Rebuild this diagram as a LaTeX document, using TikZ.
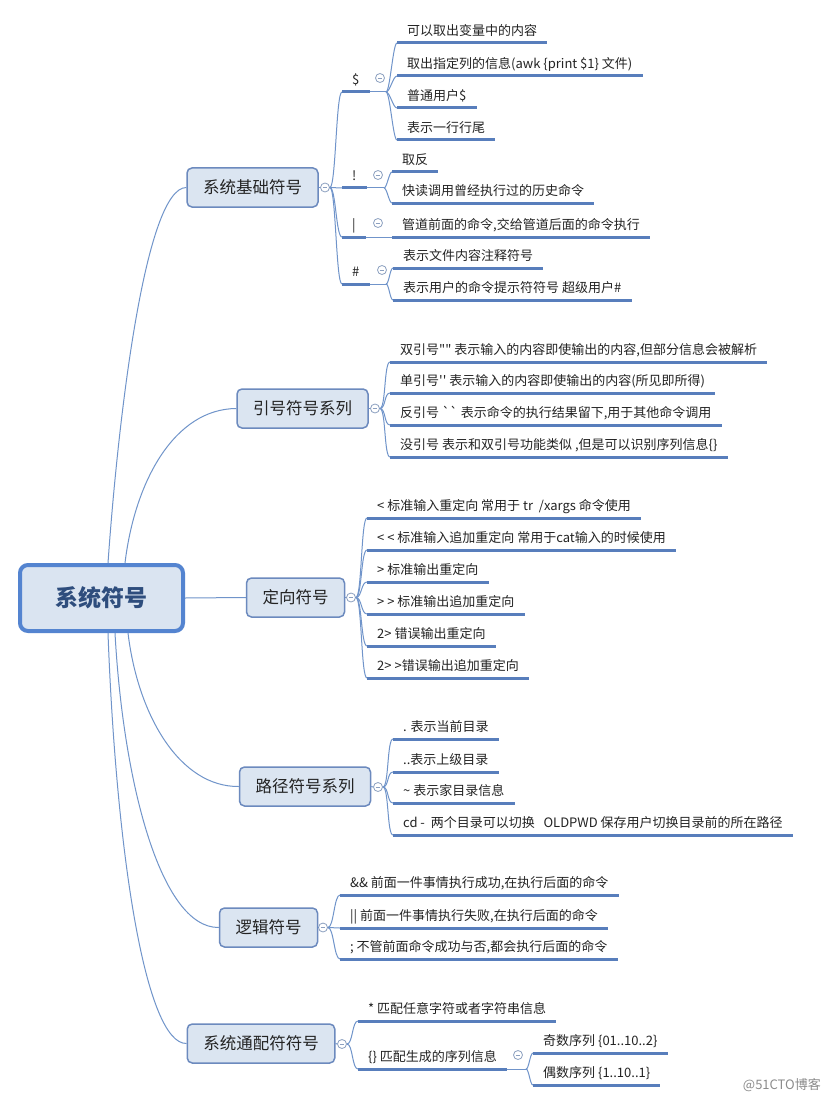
\documentclass[tikz,border=0pt]{standalone}
\usepackage{fontspec}
\newfontfamily\cjk{Noto Sans CJK SC}[Ligatures=TeXOff]
\definecolor{brc}{RGB}{112,148,202}
\definecolor{ulc}{RGB}{88,126,188}
\definecolor{topc}{RGB}{108,138,190}
\definecolor{topf}{RGB}{219,229,241}
\definecolor{rootc}{RGB}{84,132,208}
\definecolor{rootf}{RGB}{218,228,241}
\definecolor{roott}{RGB}{46,77,125}
\definecolor{txt}{RGB}{35,35,35}
\definecolor{foldc}{RGB}{140,160,192}
\definecolor{wmc}{RGB}{140,140,140}
\begin{document}
\begin{tikzpicture}[x=1pt,y=-1pt,
  br/.style={draw=brc, line width=1pt, to path={.. controls ([xshift=#1]\tikztostart) and ([xshift=-#1]\tikztotarget) .. (\tikztotarget)}},
  br/.default=6pt,
  leaf/.style={anchor=south west, inner xsep=10pt, inner ysep=4pt, text height=10pt, text depth=3pt, font=\cjk\fontsize{13}{15}\selectfont, text=txt},
  ulline/.style={draw=ulc, line width=3pt},
  topic/.style={draw=topc, line width=1.5pt, fill=topf, rounded corners=5pt, minimum height=39pt, inner xsep=16pt, font=\cjk\fontsize{16.5}{19}\selectfont, text=txt},
  rootbox/.style={draw=rootc, line width=4pt, fill=rootf, rounded corners=8pt, minimum width=163pt, minimum height=66pt, font=\cjk\bfseries\fontsize{23}{26}\selectfont, text=roott},
  fold/.style={circle, draw=foldc, line width=0.8pt, fill=white, minimum size=9pt, inner sep=0pt,
    path picture={\draw[foldc, line width=0.8pt] ([xshift=-2.3pt]path picture bounding box.center) -- ([xshift=2.3pt]path picture bounding box.center);}}
]
\useasboundingbox (0,0) rectangle (829,1102);
\fill[white] (0,0) rectangle (829,1102);

% root
\node[rootbox] (root) at (101.5,598) {系统符号};

% topics
\node[topic] (t1) at (252.5,187.5) {系统基础符号};
\node[topic] (t2) at (302.5,408.5) {引号符号系列};
\node[topic] (t3) at (295.5,597.5) {定向符号};
\node[topic] (t4) at (305,786.5) {路径符号系列};
\node[topic] (t5) at (268.5,927.5) {逻辑符号};
\node[topic] (t6) at (261,1043.5) {系统通配符符号};

% root connectors
\draw[br] ([xshift=6.5pt]root.north) .. controls (118,420) and (145,188) .. (t1.west);
\draw[br] ([xshift=23.5pt]root.north) .. controls (135,480) and (175,409) .. (t2.west);
\draw[br] (root.east) -- (t3.west);
\draw[br] ([xshift=26.5pt]root.south) .. controls (138,716) and (180,787) .. (t4.west);
\draw[br] ([xshift=13.5pt]root.south) .. controls (123,780) and (160,928) .. (t5.west);
\draw[br] ([xshift=6.5pt]root.south) .. controls (116,850) and (145,1044) .. (t6.west);

% folds of topics
\node[fold] (c1) at (325,187.5) {};
\node[fold] (c2) at (375,408.5) {};
\node[fold] (c3) at (351,597.5) {};
\node[fold] (c4) at (378,787) {};
\node[fold] (c5) at (323,927.5) {};
\node[fold] (c6) at (342,1044) {};
\foreach \t/\c in {t1/c1,t2/c2,t3/c3,t4/c4,t5/c5,t6/c6}
  \draw[br] (\t.east) -- (\c.west);

% ---- topic 1 ----
\node[leaf] (s1) at (342,92) {\$};
\node[leaf] (s2) at (342,188) {!};
\node[leaf] (s3) at (342,237) {|};
\node[leaf] (s4) at (342,284) {\#};
\node[fold] (f1) at (380,78) {};
\node[fold] (f2) at (378,175) {};
\node[fold] (f3) at (378,223) {};
\node[fold] (f4) at (382,270) {};
\foreach \s in {s1,s2,s3,s4} \draw[br] (c1.east) to (\s.south west);

\node[leaf] (l1a) at (397,43) {可以取出变量中的内容};
\node[leaf] (l1b) at (397,76) {取出指定列的信息(awk \{print \$1\} 文件)};
\node[leaf] (l1c) at (397,108) {普通用户\$};
\node[leaf] (l1d) at (397,140) {表示一行行尾};
\node[leaf] (l2a) at (392,172) {取反};
\node[leaf] (l2b) at (392,203) {快读调用曾经执行过的历史命令};
\node[leaf] (l3a) at (392,237) {管道前面的命令,交给管道后面的命令执行};
\node[leaf] (l4a) at (393,268) {表示文件内容注释符号};
\node[leaf] (l4b) at (393,300) {表示用户的命令提示符符号 超级用户\#};

\coordinate (o1) at (386,92);
\coordinate (o2) at (384,188);
\coordinate (o4) at (386,284);
\draw[br] (s1.south east) -- (o1);
\draw[br] (s2.south east) -- (o2);
\draw[br] (s4.south east) -- (o4);
\foreach \l in {l1a,l1b,l1c,l1d} \draw[br=4pt] (o1) to (\l.south west);
\foreach \l in {l2a,l2b} \draw[br=3pt] (o2) to (\l.south west);
\draw[br] (s3.south east) -- (l3a.south west);
\foreach \l in {l4a,l4b} \draw[br=3pt] (o4) to (\l.south west);

% ---- topic 2 ----
\node[leaf] (q1) at (390,362) {双引号"" 表示输入的内容即使输出的内容,但部分信息会被解析};
\node[leaf] (q2) at (390,393) {单引号'' 表示输入的内容即使输出的内容(所见即所得)};
\node[leaf] (q3) at (390,425) {反引号 `` 表示命令的执行结果留下,用于其他命令调用};
\node[leaf] (q4) at (390,457) {没引号 表示和双引号功能类似 ,但是可以识别序列信息\{\}};
\foreach \l in {q1,q2,q3,q4} \draw[br] (c2.east) to (\l.south west);

% ---- topic 3 ----
\node[leaf] (r1) at (367,518) {< 标准输入重定向 常用于 tr\ \ /xargs 命令使用};
\node[leaf] (r2) at (367,550) {< < 标准输入追加重定向 常用于cat输入的时候使用};
\node[leaf] (r3) at (367,582) {> 标准输出重定向};
\node[leaf] (r4) at (367,614) {> > 标准输出追加重定向};
\node[leaf] (r5) at (367,646) {2> 错误输出重定向};
\node[leaf] (r6) at (367,678) {2> >错误输出追加重定向};
\foreach \l in {r1,r2,r3,r4,r5,r6} \draw[br] (c3.east) to (\l.south west);

% ---- topic 4 ----
\node[leaf] (p1) at (393,739) {. 表示当前目录};
\node[leaf] (p2) at (393,772) {..表示上级目录};
\node[leaf] (p3) at (393,803) {\textasciitilde\ 表示家目录信息};
\node[leaf] (p4) at (393,835) {cd -\ \ 两个目录可以切换\ \ \ OLDPWD 保存用户切换目录前的所在路径};
\foreach \l in {p1,p2,p3,p4} \draw[br] (c4.east) to (\l.south west);

% ---- topic 5 ----
\node[leaf] (g1) at (340,895) {\&\& 前面一件事情执行成功,在执行后面的命令};
\node[leaf] (g2) at (340,928) {|| 前面一件事情执行失败,在执行后面的命令};
\node[leaf] (g3) at (340,959) {; 不管前面命令成功与否,都会执行后面的命令};
\foreach \l in {g1,g2,g3} \draw[br] (c5.east) to (\l.south west);

% ---- topic 6 ----
\node[leaf] (w1) at (358,1021) {* 匹配任意字符或者字符串信息};
\node[leaf] (w2) at (358,1069) {\{\} 匹配生成的序列信息};
\foreach \l in {w1,w2} \draw[br] (c6.east) to (\l.south west);
\node[fold] (f6) at (518,1055) {};
\node[leaf] (w2a) at (533,1053) {奇数序列 \{01..10..2\}};
\node[leaf] (w2b) at (533,1085) {偶数序列 \{1..10..1\}};
\coordinate (o6) at (526,1069);
\draw[br] (w2.south east) -- (o6);
\foreach \l in {w2a,w2b} \draw[br=3pt] (o6) to (\l.south west);

% underlines
\foreach \n in {s1,s2,s3,s4,l1a,l1b,l1c,l1d,l2a,l2b,l3a,l4a,l4b,q1,q2,q3,q4,r1,r2,r3,r4,r5,r6,p1,p2,p3,p4,g1,g2,g3,w1,w2,w2a,w2b}
  \draw[ulline] (\n.south west) -- (\n.south east);

% watermark
\node[anchor=east, font=\cjk\fontsize{13}{15}\selectfont, text=wmc, inner sep=0pt] (wm) at (821,1085) {@51CTO博客};
\end{tikzpicture}
\end{document}
